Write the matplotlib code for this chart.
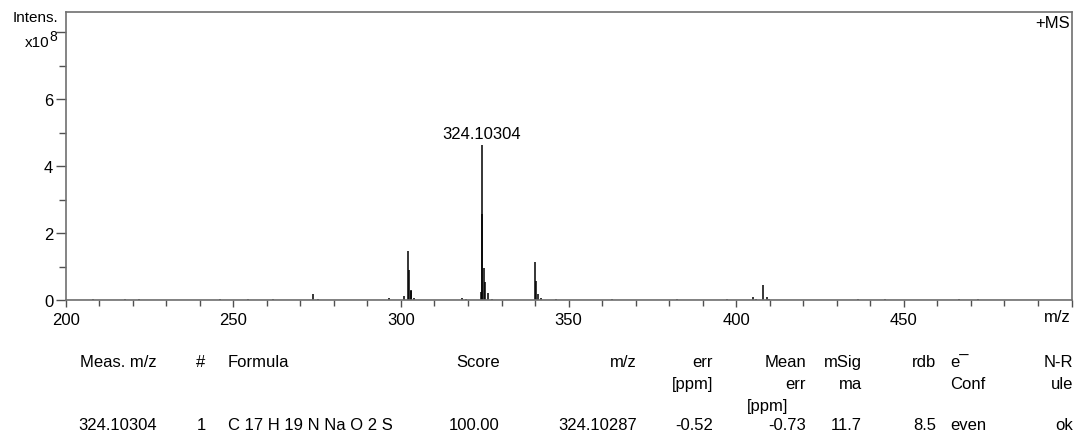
import numpy as np
import matplotlib.pyplot as plt
from matplotlib.ticker import MultipleLocator

plt.rcParams['font.family'] = ['Liberation Sans', 'DejaVu Sans']

# stick spectrum, intensities in units of 1e8
mz = [208.2, 217.7, 221.9, 246.0, 254.3, 261.9, 273.8, 275.3, 296.3,
      300.8, 302.10, 302.3, 302.9, 303.1, 304.0,
      318.1, 319.4,
      323.9, 324.10, 324.3, 324.9, 325.1, 325.9, 327.3,
      340.05, 340.25, 340.9, 341.7, 346.2, 362.8, 382.2, 397.1,
      405.1, 406.0, 408.05, 409.1, 409.8,
      436.4, 444.3, 466.5, 472.2]
intens = [0.02, 0.03, 0.03, 0.03, 0.04, 0.03, 0.18, 0.03, 0.05,
          0.13, 1.47, 0.90, 0.30, 0.28, 0.05,
          0.06, 0.02,
          0.25, 4.62, 2.58, 0.95, 0.53, 0.20, 0.03,
          1.14, 0.58, 0.18, 0.07, 0.02, 0.02, 0.02, 0.02,
          0.10, 0.04, 0.45, 0.08, 0.04,
          0.02, 0.02, 0.02, 0.02]

peak_label = "324.10304"
peak_mz = 324.10
peak_int = 4.62

xtick_vals = [200, 250, 300, 350, 400, 450, 500]
xtick_text = ['200', '250', '300', '350', '400', '450', '']
ytick_vals = [0, 2, 4, 6, 8]
ytick_text = ['0', '2', '4', '6', '']

# result table
head1 = ["Meas. m/z", "#", "Formula", "Score", "m/z", "err", "Mean", "mSig", "rdb", "e\u00af", "N-R"]
head2 = ["", "", "", "", "", "[ppm]", "err", "ma", "", "Conf", "ule"]
head3 = ["", "", "", "", "", "", "[ppm]", "", "", "", ""]
row = ["324.10304", "1", "C 17 H 19 N Na O 2 S", "100.00", "324.10287",
       "-0.52", "-0.73", "11.7", "8.5", "even", "ok"]

W, H = 1078, 435
fig = plt.figure(figsize=(W / 100, H / 100), dpi=100)
ax = fig.add_axes([65.7 / W, 1 - 301 / H, (1071.5 - 65.7) / W, (301 - 13.3) / H])

ax.vlines(mz, 0, intens, color='black', lw=1.1)
ax.axhline(0, color='#707070', lw=1.0)
ax.text(peak_mz, peak_int + 0.12, peak_label, ha='center', va='bottom', fontsize=12)

ax.set_xlim(200, 500)
ax.set_ylim(0, 8.6)
ax.set_xticks(xtick_vals)
ax.set_xticklabels(xtick_text)
ax.set_yticks(ytick_vals)
ax.set_yticklabels(ytick_text)
ax.xaxis.set_minor_locator(MultipleLocator(10))
ax.yaxis.set_minor_locator(MultipleLocator(1))
ax.tick_params(axis='x', which='major', length=5, width=1, color='#505050',
               labelsize=12, pad=4)
ax.tick_params(axis='x', which='minor', length=4, width=1, color='#505050')
ax.tick_params(axis='y', which='major', length=7, width=1, color='#505050',
               labelsize=12, pad=2)
ax.tick_params(axis='y', which='minor', length=5, width=1, color='#505050')
for s in ax.spines.values():
    s.set_color('#707070')
    s.set_linewidth(1.2)

ax.text(0.998, 0.99, "+MS", transform=ax.transAxes, ha='right', va='top', fontsize=12)
fig.text(1071 / W, 1 - 318 / H, "m/z", ha='right', va='center', fontsize=12)
fig.text(58 / W, 1 - 18 / H, "Intens.", ha='right', va='center', fontsize=11)
fig.text(49 / W, 1 - 43 / H, "x10", ha='right', va='center', fontsize=11)
fig.text(49 / W, 1 - 37 / H, "8", ha='left', va='center', fontsize=10)

# table layout
col_x = [157, 201, 228, 500, 637, 713, 806, 862, 936, 950, 1073]
col_ha = ['right', 'center', 'left', 'right', 'right', 'right', 'right', 'right', 'right', 'left', 'right']
line_y = [363, 385, 407, 426]
for i in range(len(col_x)):
    for txt, y in zip([head1[i], head2[i], head3[i], row[i]], line_y):
        if not txt:
            continue
        x = col_x[i]
        if txt == "[ppm]" and y == line_y[2]:
            x = 788
        fig.text(x / W, 1 - y / H, txt, ha=col_ha[i], va='center', fontsize=12)

fig.savefig("out.png", dpi=100)
